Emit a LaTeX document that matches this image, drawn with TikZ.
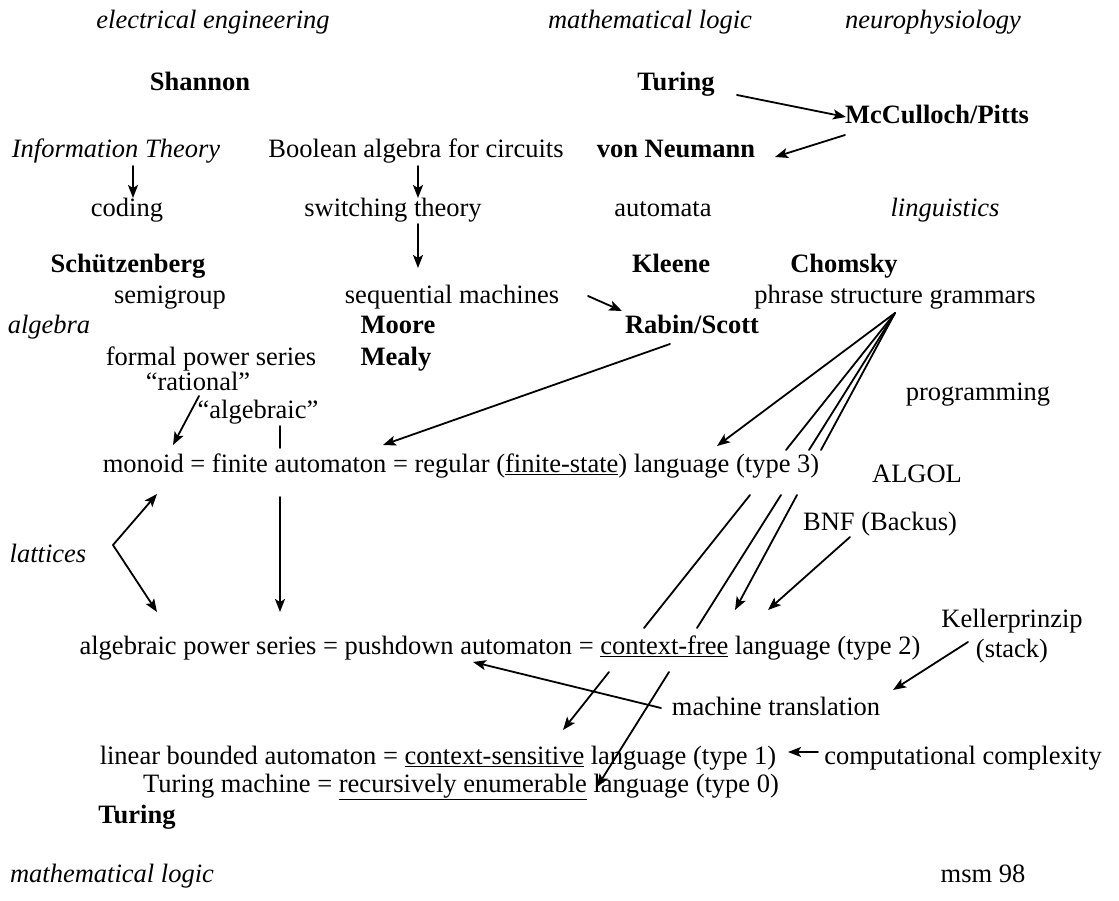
\documentclass[tikz,border=0pt]{standalone}
\usepackage{fontspec}
\setmainfont{Liberation Serif}
\usetikzlibrary{arrows.meta}
\begin{document}
\begin{tikzpicture}[x=1pt,y=-1pt,
  txt/.style={anchor=center, inner sep=0pt, text height=17pt, text depth=6pt, font=\fontsize{26.5}{31}\selectfont},
  it/.style={txt, font=\fontsize{26.5}{31}\selectfont\itshape},
  bf/.style={txt, font=\fontsize{26.5}{31}\selectfont\bfseries},
  con/.style={line width=1.8pt, line cap=round},
  arr/.style={con, -{Stealth[length=13pt,width=10pt,inset=3pt]}}]
\fill[white] (0,0) rectangle (1119,901);
\useasboundingbox (0,0) rectangle (1119,901);

% ---- texts ----
\node[it] (ee)    at (213,23)  {electrical engineering};
\node[it] (ml)    at (650,23)  {mathematical logic};
\node[it] (np)    at (933,23)  {neurophysiology};
\node[bf] (shan)  at (200,85)  {Shannon};
\node[bf] (tur)   at (676,85)  {Turing};
\node[bf] (mcp)   at (937,118) {McCulloch/Pitts};
\node[it] (infot) at (116,152) {Information Theory};
\node[txt] (bool) at (416,152) {Boolean algebra for circuits};
\node[bf] (vn)    at (676,152) {von Neumann};
\node[txt] (cod)  at (127,211) {coding};
\node[txt] (sw)   at (393,211) {switching theory};
\node[txt] (aut)  at (663,211) {automata};
\node[it] (ling)  at (945,211) {linguistics};
\node[bf] (schu)  at (128,267) {Schützenberg};
\node[bf] (klee)  at (671,267) {Kleene};
\node[bf] (chom)  at (844,267) {Chomsky};
\node[txt] (semi) at (170,298) {semigroup};
\node[txt] (seq)  at (452,298) {sequential machines};
\node[txt] (psg)  at (895,298) {phrase structure grammars};
\node[it] (alg)   at (49,328)  {algebra};
\node[bf] (moo)   at (398,328) {Moore};
\node[bf] (rab)   at (692,328) {Rabin/Scott};
\node[txt] (fps)  at (211,360) {formal power series};
\node[bf] (mea)   at (396,360) {Mealy};
\node[txt] (rat)  at (198,385) {“rational”};
\node[txt] (prog) at (978,395) {programming};
\node[txt] (algq) at (258,413) {“algebraic”};
\node[txt] (t3)   at (461,467) {monoid = finite automaton = regular (\underline{finite-state}) language (type 3)};
\node[txt] (algol) at (917,477) {ALGOL};
\node[txt] (bnf)  at (880,525) {BNF (Backus)};
\node[it] (lat)   at (48,557)  {lattices};
\node[txt] (kel)  at (1012,622) {Kellerprinzip};
\node[txt] (t2)   at (500,649) {algebraic power series = pushdown automaton = \underline{context-free} language (type 2)};
\node[txt] (stk)  at (1012,652) {(stack)};
\node[txt] (mt)   at (776,710) {machine translation};
\node[txt] (t1)   at (438,759) {linear bounded automaton = \underline{context-sensitive} language (type 1)};
\node[txt] (cc)   at (963,759) {computational complexity};
\node[txt] (t0)   at (461,787) {Turing machine = \underline{recursively enumerable} language (type 0)};
\node[bf] (tur2)  at (137,818) {Turing};
\node[it] (ml2)   at (112,877) {mathematical logic};
\node[txt] (msm)  at (983,877) {msm 98};

% ---- connector end points ----
\coordinate (turS) at (737,95);   \coordinate (mcpT) at (846,117);
\coordinate (mcpS) at (845,135);  \coordinate (vnT)  at (775,157);
\coordinate (infS) at (133,166);  \coordinate (codT) at (133,198);
\coordinate (boolS) at (418,166); \coordinate (swT)  at (418,198);
\coordinate (swS) at (418,224);   \coordinate (seqT) at (418,268);
\coordinate (seqS) at (588,296);  \coordinate (rabT) at (622,311);
\coordinate (rabS) at (670,344);  \coordinate (t3a)  at (383,445);
\coordinate (ratS) at (199,396);  \coordinate (t3b)  at (173,445);
\coordinate (algS) at (280,426);  \coordinate (algE) at (280,448);
\coordinate (t3S)  at (280,497);  \coordinate (t2a)  at (280,612);
\coordinate (latV) at (113,545);  \coordinate (t3c)  at (157,494);
\coordinate (t2b)  at (157,612);
\coordinate (fan)  at (895,313);
\coordinate (t3d)  at (717,446);
% line to context-sensitive
\coordinate (p1a) at (786,450); \coordinate (p1b) at (750,495);
\coordinate (p1c) at (644,628); \coordinate (p1d) at (609,672);
\coordinate (t1a) at (563,730);
% line to recursively enumerable
\coordinate (p2a) at (809,450); \coordinate (p2b) at (781,495);
\coordinate (p2c) at (697,628); \coordinate (p2d) at (669,672);
\coordinate (t0a) at (597,787);
% line to context-free
\coordinate (p3a) at (821,450); \coordinate (p3b) at (797,495);
\coordinate (t2c) at (735,610);
\coordinate (bnfS) at (850,537); \coordinate (t2d) at (768,610);
\coordinate (kelS) at (968,642); \coordinate (kelT) at (893,690);
\coordinate (mtS)  at (661,708); \coordinate (t2e) at (473,662);
\coordinate (ccS)  at (818,752); \coordinate (t1b) at (788,752);

% ---- connectors ----
\draw[arr] (turS) -- (mcpT);
\draw[arr] (mcpS) -- (vnT);
\draw[arr] (infS) -- (codT);
\draw[arr] (boolS) -- (swT);
\draw[arr] (swS) -- (seqT);
\draw[arr] (seqS) -- (rabT);
\draw[arr] (rabS) -- (t3a);
\draw[arr] (ratS) -- (t3b);
\draw[con] (algS) -- (algE);
\draw[arr] (t3S) -- (t2a);
\draw[arr] (latV) -- (t3c);
\draw[arr] (latV) -- (t2b);
\draw[arr] (fan) -- (t3d);
\draw[con] (fan) -- (p1a);
\draw[con] (p1b) -- (p1c);
\draw[arr] (p1d) -- (t1a);
\draw[con] (fan) -- (p2a);
\draw[con] (p2b) -- (p2c);
\draw[arr] (p2d) -- (t0a);
\draw[con] (fan) -- (p3a);
\draw[arr] (p3b) -- (t2c);
\draw[arr] (bnfS) -- (t2d);
\draw[arr] (kelS) -- (kelT);
\draw[arr] (mtS) -- (t2e);
\draw[arr] (ccS) -- (t1b);
\end{tikzpicture}
\end{document}
